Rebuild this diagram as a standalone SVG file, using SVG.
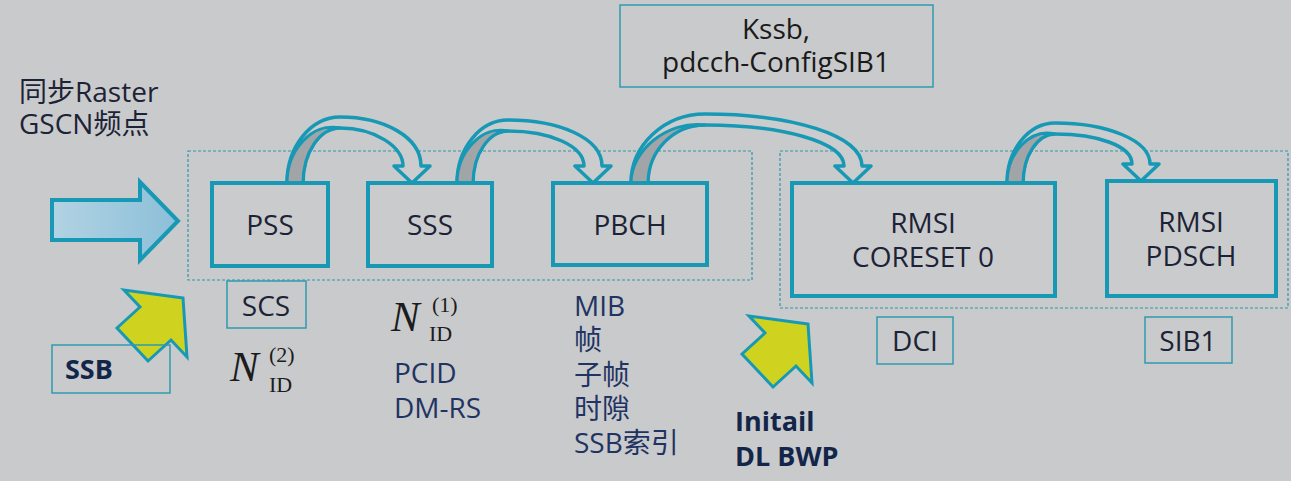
<svg xmlns="http://www.w3.org/2000/svg" width="1291" height="481" viewBox="0 0 1291 481">
<defs>
<style>
.bg{fill:#c9cacc}
.box{fill:#cacbcd;stroke:#1799b6;stroke-width:4}
.tbox{fill:none;stroke:#2f9aae;stroke-width:1.5}
.grp{fill:none;stroke:#2f95ad;stroke-width:1.2;stroke-dasharray:3 2}
.lbl{font-family:"Open Sans","Noto Sans","Noto Sans CJK SC",sans-serif;font-size:28px;fill:#1c2336;text-anchor:middle}
.txt{font-family:"Open Sans","Noto Sans","Noto Sans CJK SC",sans-serif;font-size:28px;fill:#1f3462}
.bold{font-weight:bold;fill:#13264a;font-size:27px}
.band{fill:#cbcccd;stroke:#1799b6;stroke-width:3.5;stroke-linejoin:round}
.under{fill:#a2a5a8;stroke:#1799b6;stroke-width:3;stroke-linejoin:round}
.yel{fill:#cfd31f;stroke:#1799b6;stroke-width:3;stroke-linejoin:miter}
.math{font-family:"Liberation Serif",serif;fill:#1c1c1c}
</style>
<linearGradient id="blueg" x1="0" y1="0" x2="1" y2="0">
<stop offset="0" stop-color="#b2d3e3"/>
<stop offset="1" stop-color="#8bbfd8"/>
</linearGradient>
</defs>
<rect class="bg" x="0" y="0" width="1291" height="481"/>

<g id="groups">
<rect class="grp" x="188" y="151" width="564" height="129"/>
<rect class="grp" x="780" y="151" width="508" height="157"/>
</g>

<g id="connectors">
<path class="band" d="M287,183 C287,146.7 310.9,117 340,117 C384,117 421,137 421,166 L430,166 L412,183 L394,166 L403,166 C403,147 375.2,128 340,128 C319.7,128 303,152.2 303,183 Z"/>
<path class="under" d="M287,183 C287,150 312,122 340,128 C319.7,128 303,152.2 303,183 Z"/>
<path class="band" d="M457,183 C457,148.4 480,120 508,120 C559.2,120 602,138 602,166 L611,166 L593,183 L575,166 L584,166 C584,146 550.4,131 508,131 C488.8,131 473,153.9 473,183 Z"/>
<path class="under" d="M457,183 C457,152 482,125 508,131 C488.8,131 473,153.9 473,183 Z"/>
<path class="band" d="M631,183 C631,145 664.3,114 705,114 C790.8,114 862,135 862,166 L871,166 L853,183 L835,166 L844,166 C844,142 782,125 705,125 C673.1,125 648,150.6 648,183 Z"/>
<path class="under" d="M631,183 C631,150 668,120 705,125 C673.1,125 648,150.6 648,183 Z"/>
<path class="band" d="M1007,183 C1007,150 1028.6,123 1055,123 C1106.7,123 1150,140 1150,164 L1159,164 L1141,181 L1123,164 L1132,164 C1132,146 1097.9,134 1055,134 C1037.4,134 1023,155.5 1023,183 Z"/>
<path class="under" d="M1007,183 C1007,153 1030,128 1055,134 C1037.4,134 1023,155.5 1023,183 Z"/>
<path id="ssb-arrow" d="M52,200 L140,200 L140,182 L178,221 L140,260 L140,240 L52,240 Z" fill="url(#blueg)" stroke="#1799b6" stroke-width="4" stroke-linejoin="miter"/>
<path class="yel" d="M183,298 L124,290 L140,307 L117,328 L148,361 L171,340 L187,357 Z"/>
<path class="yel" d="M808,324 L749,316 L765,333 L742,354 L773,387 L796,366 L812,383 Z"/>
</g>

<g id="node-kssb">
<rect class="tbox" x="620" y="5" width="313" height="82"/>
<text class="lbl" x="776" y="39" style="fill:#1a1a1a">Kssb,</text>
<text class="lbl" x="776" y="72" style="fill:#1a1a1a">pdcch-ConfigSIB1</text>
</g>

<g id="node-raster">
<text class="txt" x="19" y="102" style="fill:#1c2336">同步Raster</text>
<text class="txt" x="19" y="134" style="fill:#1c2336">GSCN频点</text>
</g>

<g id="node-pss">
<rect class="box" x="212" y="183" width="116" height="83"/>
<text class="lbl" x="270" y="235">PSS</text>
</g>
<g id="node-sss">
<rect class="box" x="368" y="183" width="124" height="83"/>
<text class="lbl" x="430" y="235">SSS</text>
</g>
<g id="node-pbch">
<rect class="box" x="553" y="183" width="154" height="82"/>
<text class="lbl" x="630" y="235">PBCH</text>
</g>
<g id="node-coreset">
<rect class="box" x="792" y="183" width="263" height="113"/>
<text class="lbl" x="923" y="233">RMSI</text>
<text class="lbl" x="923" y="267">CORESET 0</text>
</g>
<g id="node-pdsch">
<rect class="box" x="1107" y="181" width="169" height="115"/>
<text class="lbl" x="1191" y="232">RMSI</text>
<text class="lbl" x="1191" y="266">PDSCH</text>
</g>

<g id="node-scs">
<rect class="tbox" x="227" y="281" width="79" height="47"/>
<text class="lbl" x="266" y="316">SCS</text>
</g>
<g id="node-ssb">
<rect class="tbox" x="52" y="345" width="118" height="48"/>
<text class="txt bold" x="65" y="379">SSB</text>
</g>
<g id="node-dci">
<rect class="tbox" x="877" y="317" width="76" height="47"/>
<text class="lbl" x="915" y="351">DCI</text>
</g>
<g id="node-sib1">
<rect class="tbox" x="1145" y="317" width="87" height="46"/>
<text class="lbl" x="1188" y="351">SIB1</text>
</g>

<g id="node-nid2">
<text class="math" x="230" y="381" font-size="43" font-style="italic">N</text>
<text class="math" x="269" y="362" font-size="22">(2)</text>
<text class="math" x="269" y="392" font-size="22">ID</text>
</g>
<g id="node-nid1">
<text class="math" x="391" y="331" font-size="43" font-style="italic">N</text>
<text class="math" x="432" y="312" font-size="22">(1)</text>
<text class="math" x="429" y="341" font-size="22">ID</text>
</g>

<g id="node-pcid">
<text class="txt" x="394" y="383">PCID</text>
<text class="txt" x="394" y="418">DM-RS</text>
</g>
<g id="node-mib">
<text class="txt" x="574" y="316">MIB</text>
<text class="txt" x="574" y="350">帧</text>
<text class="txt" x="574" y="385">子帧</text>
<text class="txt" x="574" y="419">时隙</text>
<text class="txt" x="574" y="453">SSB索引</text>
</g>
<g id="node-bwp">
<text class="txt bold" x="735" y="431">Initail</text>
<text class="txt bold" x="735" y="466">DL BWP</text>
</g>
</svg>
